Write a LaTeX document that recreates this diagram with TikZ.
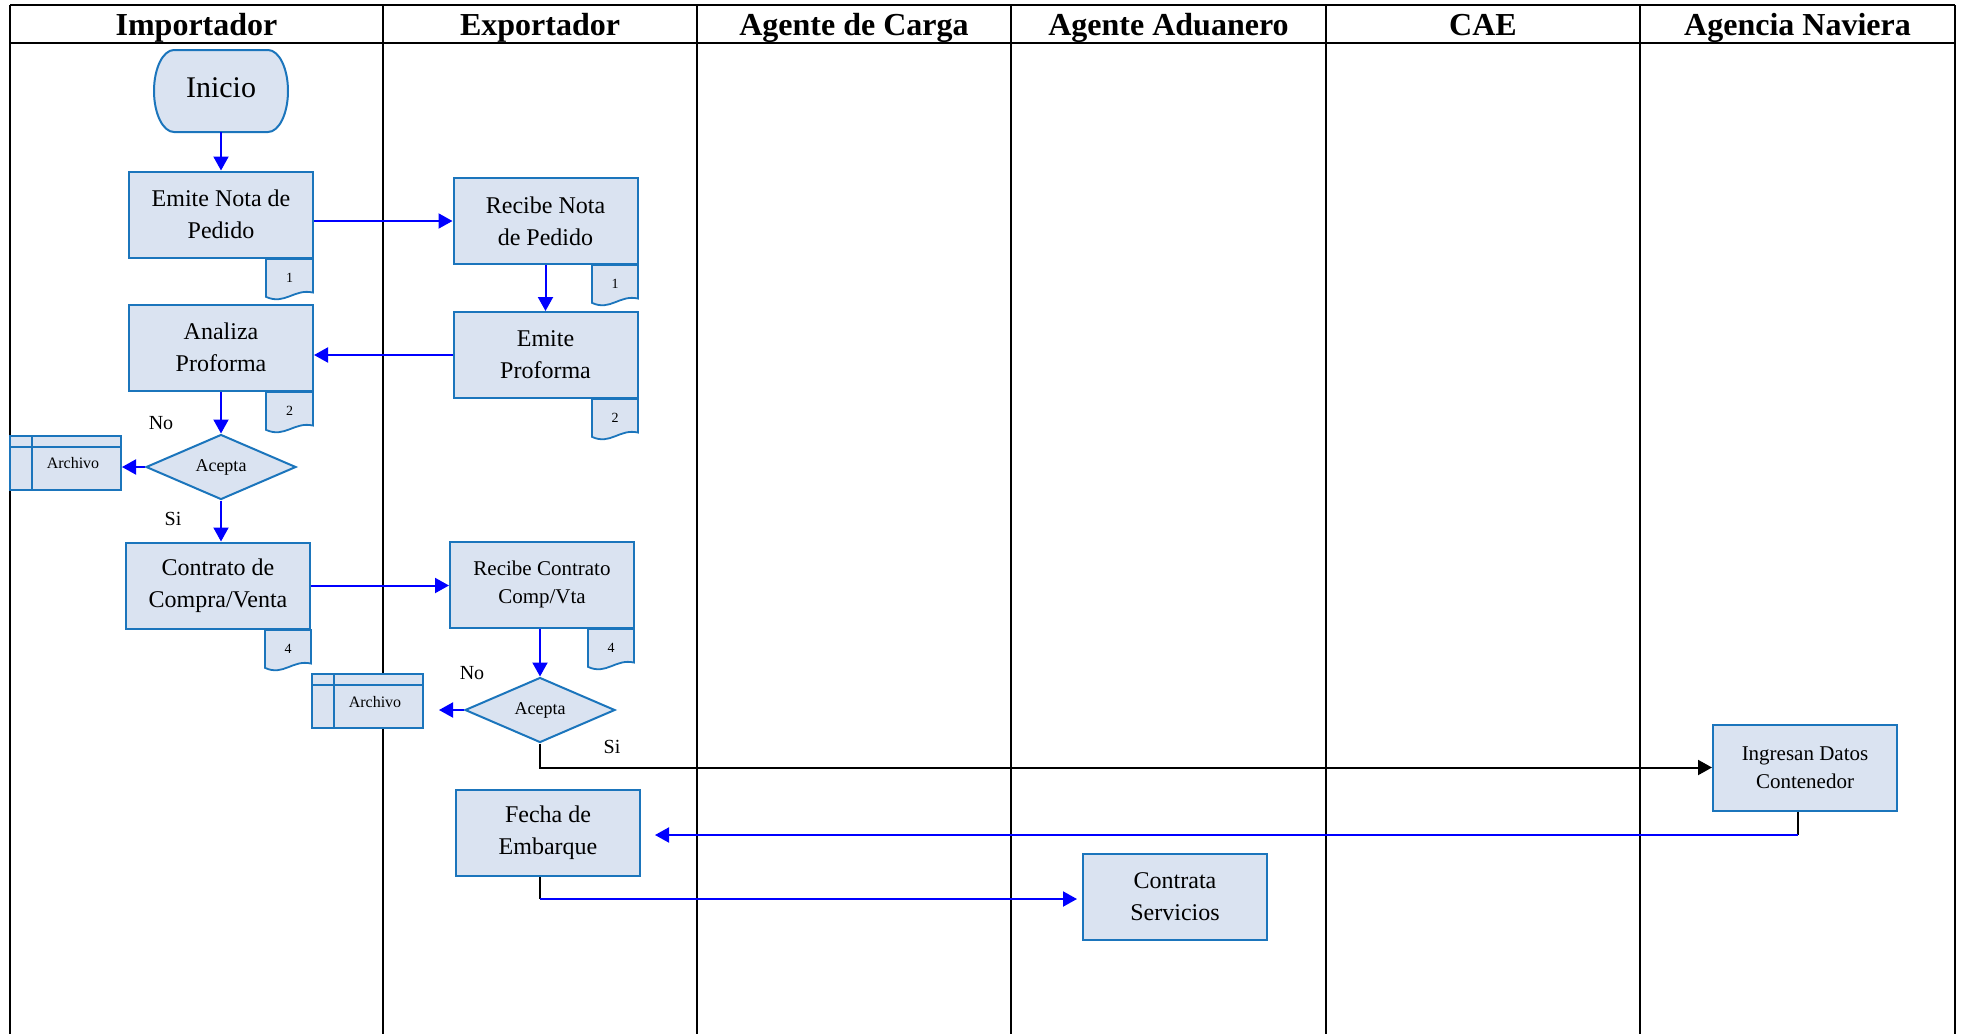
\documentclass[tikz,border=0pt]{standalone}
\usepackage{fontspec}
\setmainfont{Liberation Serif}
\usetikzlibrary{arrows.meta,shapes.geometric}
\definecolor{boxfill}{HTML}{DAE3F1}
\definecolor{boxline}{HTML}{1B75BC}
\definecolor{arrblue}{HTML}{0000FF}
\tikzset{
  lane/.style={line width=1.8pt, black},
  hdr/.style={font=\bfseries\fontsize{32}{38}\selectfont, anchor=base, inner sep=0pt},
  proc/.style={draw=boxline, fill=boxfill, line width=2pt, minimum width=184pt, minimum height=86pt, align=center, inner sep=0pt, font=\fontsize{24}{32}\selectfont},
  procsm/.style={proc, font=\fontsize{21}{28}\selectfont},
  dec/.style={diamond, draw=boxline, fill=boxfill, line width=2pt, aspect=2.3, minimum width=150pt, minimum height=65pt, inner sep=0pt, font=\fontsize{18}{22}\selectfont},
  archbox/.style={draw=boxline, fill=boxfill, line width=2pt, minimum width=111pt, minimum height=54pt, inner sep=0pt},
  archtxt/.style={font=\fontsize{16}{20}\selectfont, inner sep=0pt},
  docbox/.style={draw=boxline, fill=boxfill, line width=1.8pt},
  docnum/.style={font=\fontsize{14}{16}\selectfont, inner sep=0pt},
  lbl/.style={font=\fontsize{20}{24}\selectfont, inner sep=0pt},
  arr/.style={draw=arrblue, line width=2pt, -{Triangle[length=14pt,width=15pt]}},
  blkarr/.style={draw=black, line width=2pt, -{Triangle[length=14pt,width=15pt]}},
  blkline/.style={draw=black, line width=2pt},
}
\newcommand\docsym[6]{%
  \filldraw[docbox] (#1,#2) -- ({#1+#3},#2) -- ({#1+#3},{#2+0.78*#4})
    .. controls ({#1+0.6*#3},{#2+0.68*#4}) and ({#1+0.4*#3},{#2+1.08*#4}) .. (#1,{#2+0.88*#4}) -- cycle;
  \node[docnum] (#6) at ({#1+0.5*#3},{#2+0.45*#4}) {#5};
}
\begin{document}
\begin{tikzpicture}[x=1pt,y=-1pt]
\useasboundingbox (0,0) rectangle (1962,1034);
% lanes
\draw[lane] (10,5) -- (1955,5);
\draw[lane] (10,43) -- (1955,43);
\foreach \xx in {10,383,697,1011,1326,1640,1955} {\draw[lane] (\xx,5) -- (\xx,1034);}
\node[hdr] (h1) at (196.5,35) {Importador};
\node[hdr] (h2) at (540,35) {Exportador};
\node[hdr] (h3) at (854,35) {Agente de Carga};
\node[hdr] (h4) at (1168.5,35) {Agente Aduanero};
\node[hdr] (h5) at (1483,35) {CAE};
\node[hdr] (h6) at (1797.5,35) {Agencia Naviera};
% start
\filldraw[draw=boxline, fill=boxfill, line width=2pt] (174,50) -- (268,50)
  arc[start angle=-90, end angle=90, x radius=20, y radius=41] -- (174,132)
  arc[start angle=90, end angle=270, x radius=20, y radius=41] -- cycle;
\node[minimum width=134pt, minimum height=82pt, inner sep=0pt, font=\fontsize{30}{36}\selectfont] (inicio) at (221,91) {};
\node[font=\fontsize{30}{36}\selectfont, inner sep=0pt] (iniciot) at (221,88) {Inicio};
% processes
\node[proc] (emite) at (221,214.5) {Emite Nota de\\Pedido};
\node[proc] (recibe) at (545.5,221) {Recibe Nota\\de Pedido};
\node[proc] (analiza) at (221,347.5) {Analiza\\Proforma};
\node[proc] (emitep) at (545.5,355) {Emite\\Proforma};
\node[proc] (contrato) at (218,585.5) {Contrato de\\Compra/Venta};
\node[procsm] (recibec) at (542,584.5) {Recibe Contrato\\Comp/Vta};
\node[proc] (fecha) at (548,833) {Fecha de\\Embarque};
\node[procsm] (ingresan) at (1805,767.5) {Ingresan Datos\\Contenedor};
\node[proc] (contrata) at (1175,896.5) {Contrata\\Servicios};
% documents
\docsym{266}{259}{47}{43}{1}{d1a}
\docsym{592}{265}{46}{43}{1}{d1b}
\docsym{266}{392}{47}{43}{2}{d2a}
\docsym{592}{399}{46}{43}{2}{d2b}
\docsym{265}{630}{46}{43}{4}{d4a}
\docsym{588}{629}{46}{43}{4}{d4b}
% decisions
\node[dec] (acepta1) at (221,467) {Acepta};
\node[dec] (acepta2) at (540,710) {Acepta};
% archives
\node[archbox] (arch1) at (65.5,463) {};
\draw[draw=boxline, line width=2pt] (10,447) -- (121,447);
\draw[draw=boxline, line width=2pt] (32,436) -- (32,490);
\node[archtxt] (arch1t) at (73,463) {Archivo};
\node[archbox] (arch2) at (367.5,701) {};
\draw[draw=boxline, line width=2pt] (312,685) -- (423,685);
\draw[draw=boxline, line width=2pt] (334,674) -- (334,728);
\node[archtxt] (arch2t) at (375,702) {Archivo};
% labels
\node[lbl] (no1) at (161,423) {No};
\node[lbl] (si1) at (173,519) {Si};
\node[lbl] (no2) at (472,673) {No};
\node[lbl] (si2) at (612,747) {Si};
% connectors
\draw[arr] (inicio.south) -- (emite.north);
\draw[arr] (emite.east |- recibe.west) -- (recibe.west);
\draw[arr] (recibe.south) -- (emitep.north);
\draw[arr] (emitep.west) -- (emitep.west -| analiza.east);
\draw[arr] (analiza.south) -- (acepta1.north);
\draw[arr] (acepta1.west) -- (acepta1.west -| arch1.east);
\draw[arr] (acepta1.south) -- (acepta1.south |- contrato.north);
\draw[arr] (contrato.east) -- (contrato.east -| recibec.west);
\draw[arr] (recibec.south -| acepta2.north) -- (acepta2.north);
\draw[arr, shorten >=15pt] (acepta2.west) -- (acepta2.west -| arch2.east);
\draw[blkarr] (acepta2.south) |- (ingresan.west);
\coordinate (c1) at (1798,835);
\draw[blkline] (ingresan.south -| c1) -- (c1);
\draw[arr, shorten >=14pt] (c1) -- (c1 -| fecha.east);
\coordinate (c2) at (540,899);
\draw[blkline] (fecha.south -| c2) -- (c2);
\draw[arr, shorten >=5pt] (c2) -- (c2 -| contrata.west);
\end{tikzpicture}
\end{document}
